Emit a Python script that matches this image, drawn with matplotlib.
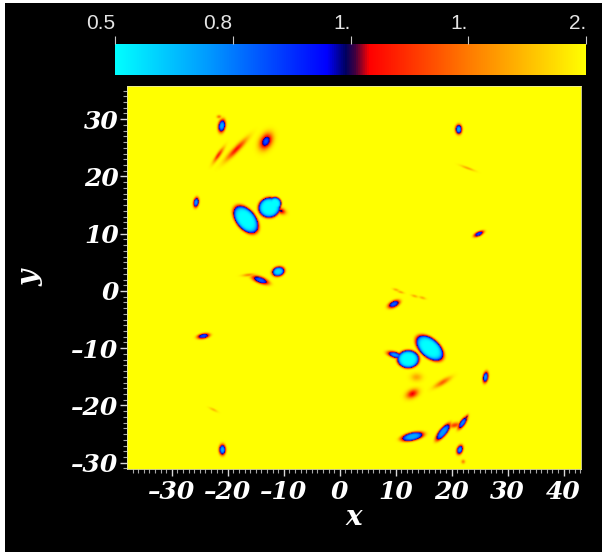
"""
Density map with a split cyan-blue / red-yellow colour bar, white text on black.
"""
import matplotlib
import matplotlib.pyplot as plt
import numpy as np
from matplotlib.colors import LinearSegmentedColormap
from matplotlib.patches import Rectangle

matplotlib.use("Agg")

W, H = 602, 552
FIELD_MAX = 2.0
FIELD_MIN = 0.5
LABEL_FONT = dict(family="DejaVu Serif", fontweight="bold", fontstyle="italic", color="white")

X_TICKS = [-30, -20, -10, 0, 10, 20, 30, 40]
Y_TICKS = [-30, -20, -10, 0, 10, 20, 30]
BAR_VALUES = [0.5, 0.875, 1.25, 1.625, 2.0]
BAR_LABELS = ["0.5", "0.8", "1.", "1.", "2."]

# structures: centre, half lengths, tilt, lowest value, edge sharpness
BLOB_X = [-21.1, -21.6, -18.5, -21.7, -13.2, -25.7, -16.8, -12.6, -11.6, -10.5, -11.0, -14.2, -16.3,
          9.7, 10.1, 10.9, 13.4, 14.8, 16.1, 12.25, 9.9, 13.75, 18.4, 13.0, 26.1, 13.0, 18.5,
          22.0, 22.7, 20.6, 21.5, 22.1, 21.3, 22.9, 24.9, -24.4, -21.0, -22.6]
BLOB_Y = [28.9, 30.5, 24.8, 23.8, 26.2, 15.5, 12.5, 14.6, 15.3, 14.0, 3.4, 1.9, 2.8,
          -2.3, 0.2, -0.2, -0.9, -1.2, -10.0, -11.95, -11.2, -15.1, -16.0, -18.0, -15.1, -25.5, -24.7,
          -23.1, -22.1, -23.5, -27.8, -29.9, 28.3, 21.5, 10.0, -7.9, -27.8, -20.8]
BLOB_A = [1.15, 0.4, 2.5, 1.5, 1.4, 0.9, 2.9, 2.0, 1.15, 0.8, 1.15, 1.6, 1.1,
          1.15, 0.6, 0.6, 0.6, 0.6, 2.95, 2.0, 1.4, 1.0, 1.6, 1.1, 1.0, 2.1, 1.9,
          1.3, 0.5, 1.1, 0.85, 0.35, 0.85, 1.3, 1.0, 1.15, 0.95, 0.8]
BLOB_B = [0.65, 0.3, 0.5, 0.35, 0.95, 0.5, 1.75, 1.8, 1.15, 0.5, 0.85, 0.6, 0.25,
          0.6, 0.22, 0.22, 0.22, 0.22, 1.7, 1.6, 0.55, 0.7, 0.45, 0.7, 0.5, 0.75, 0.7,
          0.5, 0.25, 0.45, 0.55, 0.35, 0.6, 0.22, 0.42, 0.48, 0.6, 0.22]
BLOB_ANGLE = [80, 0, 45, 55, 60, 80, -50, 10, 0, -20, 15, -20, 5,
              25, -15, -15, -15, -15, -40, 0, -15, 0, 30, 25, 80, 12, 50,
              55, 60, 10, 70, 0, 90, -20, 25, 10, 90, -25]
BLOB_MIN = [0.75, 1.6, 1.35, 1.4, 0.95, 0.8, 0.5, 0.5, 0.5, 1.2, 0.6, 0.95, 1.65,
            0.95, 1.75, 1.75, 1.75, 1.75, 0.5, 0.5, 0.8, 1.75, 1.55, 1.3, 0.8, 0.75, 0.8,
            0.85, 1.2, 1.45, 0.8, 1.65, 0.75, 1.75, 1.0, 1.0, 0.75, 1.8]
BLOB_SHARP = [3, 2, 2, 2, 2, 3, 7, 7, 6, 2, 4, 3, 2,
              3, 2, 2, 2, 2, 7, 7, 3, 2, 2, 2, 3, 4, 4,
              3, 2, 2, 3, 2, 3, 2, 3, 3, 3, 2]


def make_field(xx, yy):
    field = np.full(xx.shape, FIELD_MAX)
    blobs = zip(BLOB_X, BLOB_Y, BLOB_A, BLOB_B, BLOB_ANGLE, BLOB_MIN, BLOB_SHARP)
    for cx, cy, a, b, angle, low, sharp in blobs:
        t = np.deg2rad(angle)
        u = (xx - cx) * np.cos(t) + (yy - cy) * np.sin(t)
        v = -(xx - cx) * np.sin(t) + (yy - cy) * np.cos(t)
        r = np.sqrt((u / a) ** 2 + (v / b) ** 2)
        field = np.minimum(field, FIELD_MAX - (FIELD_MAX - low) * np.exp(-r ** sharp))
    return field


def main():
    cmap = LinearSegmentedColormap.from_list("split", [
        (0.0, "#00ffff"),
        (0.20, "#0098ff"),
        (0.45, "#0000ff"),
        (0.49, "#000060"),
        (0.51, "#400040"),
        (0.54, "#ff0000"),
        (0.75, "#ff7a00"),
        (1.0, "#ffff00"),
    ])

    fig = plt.figure(figsize=(W / 100, H / 100), dpi=100, facecolor="white")
    fig.add_artist(Rectangle((5 / W, 0), 1, 1 - 3 / H, transform=fig.transFigure,
                             facecolor="black", edgecolor="none", zorder=-5))

    ax = fig.add_axes([127 / W, 1 - 469 / H, 454 / W, 383 / H], facecolor="#ffff00")
    xs = np.linspace(-38, 43.1, 500)
    ys = np.linspace(-31.1, 35.8, 420)
    xx, yy = np.meshgrid(xs, ys)
    ax.imshow(make_field(xx, yy), extent=(-38, 43.1, -31.1, 35.8), origin="lower",
              cmap=cmap, vmin=FIELD_MIN, vmax=FIELD_MAX, aspect="auto", interpolation="bilinear")
    ax.set_xticks(X_TICKS)
    ax.set_yticks(Y_TICKS)
    ax.set_xticks(np.arange(-37, 44, 1), minor=True)
    ax.set_yticks(np.arange(-31, 36, 1), minor=True)
    ax.set_xticklabels([str(v).replace("-", "\u2013") for v in X_TICKS])
    ax.set_yticklabels([str(v).replace("-", "\u2013") for v in Y_TICKS])
    ax.tick_params(which="major", colors="#d8d8d8", length=5, width=1, direction="out")
    ax.tick_params(which="minor", colors="#a8a8a8", length=3, width=0.8, direction="out")
    ax.tick_params(axis="x", which="major", pad=3)
    ax.tick_params(axis="y", which="major", pad=1)
    for lab in ax.get_xticklabels() + ax.get_yticklabels():
        lab.set(fontsize=18, **LABEL_FONT)
    for side in ax.spines.values():
        side.set_color("#e8e8a0")
        side.set_linewidth(0.6)
    ax.set_xlabel("x", fontsize=20, labelpad=0, **LABEL_FONT)
    ax.set_ylabel("y", fontsize=20, labelpad=20, **LABEL_FONT)

    cax = fig.add_axes([115 / W, 1 - 75 / H, 471 / W, 31 / H])
    grad = np.linspace(FIELD_MIN, FIELD_MAX, 512)[None, :]
    cax.imshow(grad, extent=(FIELD_MIN, FIELD_MAX, 0, 1), cmap=cmap, vmin=FIELD_MIN, vmax=FIELD_MAX,
               aspect="auto")
    cax.set_yticks([])
    cax.xaxis.tick_top()
    cax.set_xticks(BAR_VALUES)
    cax.set_xticklabels(BAR_LABELS)
    cax.tick_params(colors="#c8c8c8", length=6, width=0.8, pad=2)
    for lab in cax.get_xticklabels():
        lab.set(family="Liberation Sans", fontsize=15, color="#e4e4e4", ha="right")
    for side in cax.spines.values():
        side.set_visible(False)

    fig.savefig("out.png", dpi=100, facecolor=fig.get_facecolor())


if __name__ == "__main__":
    main()
